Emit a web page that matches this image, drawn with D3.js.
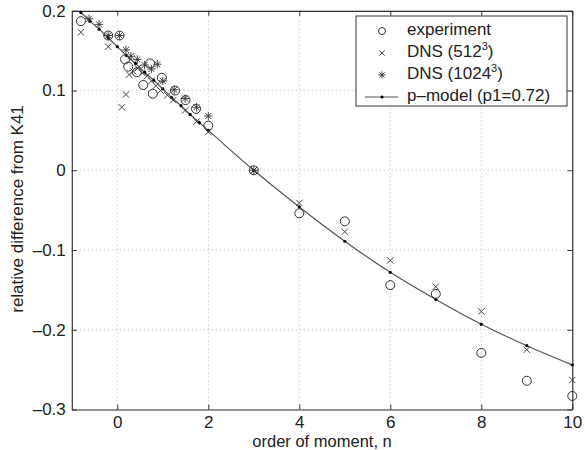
<!DOCTYPE html>
<html>
<head>
<meta charset="utf-8">
<script src="https://cdn.jsdelivr.net/npm/d3@7"></script>
<style>
  body { margin: 0; background: #fff; }
  text { font-family: "Liberation Sans", Arial, sans-serif; fill: #222; }
</style>
</head>
<body>
<script>
var width = 585;
var height = 450;

// p-model curve (p1 = 0.72)
var pmodelN = [-0.8, -0.6, -0.4, -0.2, 0, 0.2, 0.4, 0.6, 0.8, 1, 1.2, 1.4, 1.6, 1.8, 2, 3, 4, 5, 6, 7, 8, 9, 10];
var pmodelV = [0.198, 0.187, 0.177, 0.166, 0.155, 0.144, 0.134, 0.123, 0.113, 0.102, 0.091, 0.081, 0.070, 0.060, 0.050, 0, -0.046, -0.089, -0.128, -0.162, -0.193, -0.220, -0.244];

// experiment
var expN = [-0.8, -0.2, 0.05, 0.17, 0.24, 0.43, 0.57, 0.72, 0.78, 0.98, 1.27, 1.5, 1.73, 2, 3, 4, 5, 6, 7, 8, 9, 10];
var expV = [0.187, 0.169, 0.169, 0.139, 0.130, 0.123, 0.107, 0.134, 0.096, 0.116, 0.100, 0.088, 0.077, 0.056, 0, -0.054, -0.064, -0.144, -0.155, -0.229, -0.264, -0.283];

// DNS 512^3
var dns512N = [-0.8, -0.2, 0.1, 0.19, 0.26, 0.35, 0.45, 0.55, 0.65, 0.75, 0.85, 0.95, 1.1, 1.23, 1.49, 1.74, 2, 3, 4, 5, 6, 7, 8, 9, 10];
var dns512V = [0.173, 0.155, 0.079, 0.095, 0.120, 0.124, 0.128, 0.122, 0.118, 0.112, 0.106, 0.100, 0.094, 0.088, 0.075, 0.061, 0.048, 0, -0.041, -0.077, -0.113, -0.146, -0.177, -0.225, -0.263];

// DNS 1024^3
var dns1024N = [-0.62, -0.4, -0.2, 0.05, 0.19, 0.3, 0.44, 0.6, 0.75, 0.88, 1.0, 1.25, 1.49, 1.74, 2, 3];
var dns1024V = [0.190, 0.183, 0.169, 0.169, 0.151, 0.143, 0.139, 0.132, 0.127, 0.133, 0.112, 0.101, 0.090, 0.079, 0.068, 0];

var xTicks = [0, 2, 4, 6, 8, 10];
var yTicks = [-0.3, -0.2, -0.1, 0, 0.1, 0.2];

var legendLabels = ['experiment', 'DNS (512', 'DNS (1024', 'p\u2013model (p1=0.72)'];

var zip = function(a, b) { return a.map(function(d, i) { return [d, b[i]]; }); };

var svg = d3.select('body')
    .append('svg')
    .attr('width', width)
    .attr('height', height);

var x = d3.scaleLinear().domain([-1, 10]).range([71.8, 572.3]);
var y = d3.scaleLinear().domain([-0.3, 0.2]).range([409.5, 10.8]);

var fmt = function(d) {
    if (d === 0) return '0';
    return (d < 0 ? '\u2013' : '') + Math.abs(d).toFixed(1);
};

// grid
var grid = svg.append('g');
grid.selectAll('.gx').data(xTicks).enter().append('line')
    .attr('x1', d => x(d)).attr('x2', d => x(d))
    .attr('y1', y(-0.3)).attr('y2', y(0.2))
    .attr('stroke', '#aaa').attr('stroke-width', 0.8)
    .attr('stroke-dasharray', '1,3');
grid.selectAll('.gy').data(yTicks).enter().append('line')
    .attr('y1', d => y(d)).attr('y2', d => y(d))
    .attr('x1', x(-1)).attr('x2', x(10))
    .attr('stroke', '#aaa').attr('stroke-width', 0.8)
    .attr('stroke-dasharray', '1,3');

// axes, matlab style ticks inside
var axB = svg.append('g').attr('transform', 'translate(0,' + y(-0.3) + ')')
    .call(d3.axisBottom(x).tickValues(xTicks).tickSizeInner(-5).tickSizeOuter(0).tickPadding(6));
var axT = svg.append('g').attr('transform', 'translate(0,' + y(0.2) + ')')
    .call(d3.axisTop(x).tickValues(xTicks).tickSizeInner(-5).tickSizeOuter(0).tickFormat(''));
var axL = svg.append('g').attr('transform', 'translate(' + x(-1) + ',0)')
    .call(d3.axisLeft(y).tickValues(yTicks).tickSizeInner(-5).tickSizeOuter(0).tickPadding(6).tickFormat(fmt));
var axR = svg.append('g').attr('transform', 'translate(' + x(10) + ',0)')
    .call(d3.axisRight(y).tickValues(yTicks).tickSizeInner(-5).tickSizeOuter(0).tickFormat(''));

[axB, axT, axL, axR].forEach(function(a) {
    a.select('.domain').attr('stroke', '#333').attr('stroke-width', 1.2);
    a.selectAll('.tick line').attr('stroke', '#333');
    a.selectAll('text').attr('font-size', 17).attr('font-family', '"Liberation Sans", Arial, sans-serif').attr('fill', '#222');
});

// axis titles
svg.append('text')
    .attr('x', (x(-1) + x(10)) / 2)
    .attr('y', 447)
    .attr('text-anchor', 'middle')
    .attr('font-size', 16.5)
    .text('order of moment, n');

svg.append('text')
    .attr('transform', 'translate(23,' + 209 + ') rotate(-90)')
    .attr('text-anchor', 'middle')
    .attr('font-size', 17)
    .text('relative difference from K41');

// marker shapes
var markColor = '#333';
var crossPath = function(s) {
    return 'M' + (-s) + ',' + (-s) + 'L' + s + ',' + s + 'M' + (-s) + ',' + s + 'L' + s + ',' + (-s);
};
var starPath = function(s) {
    var d = s * 0.72;
    return 'M' + (-s) + ',0L' + s + ',0M0,' + (-s) + 'L0,' + s +
        'M' + (-d) + ',' + (-d) + 'L' + d + ',' + d + 'M' + (-d) + ',' + d + 'L' + d + ',' + (-d);
};

var marks = svg.append('g');

// p-model line with dots
var line = d3.line().x(d => x(d[0])).y(d => y(d[1])).curve(d3.curveMonotoneX);
marks.append('path')
    .datum(zip(pmodelN, pmodelV))
    .attr('d', line)
    .attr('fill', 'none')
    .attr('stroke', '#555')
    .attr('stroke-width', 1.2);
marks.selectAll('.pdot').data(zip(pmodelN, pmodelV)).enter().append('circle')
    .attr('cx', d => x(d[0])).attr('cy', d => y(d[1]))
    .attr('r', 1.6).attr('fill', '#000');

marks.selectAll('.exp').data(zip(expN, expV)).enter().append('circle')
    .attr('cx', d => x(d[0])).attr('cy', d => y(d[1]))
    .attr('r', 4.5).attr('fill', 'none')
    .attr('stroke', markColor).attr('stroke-width', 1);

marks.selectAll('.d512').data(zip(dns512N, dns512V)).enter().append('path')
    .attr('transform', d => 'translate(' + x(d[0]) + ',' + y(d[1]) + ')')
    .attr('d', crossPath(3.2))
    .attr('stroke', markColor).attr('stroke-width', 0.9);

marks.selectAll('.d1024').data(zip(dns1024N, dns1024V)).enter().append('path')
    .attr('transform', d => 'translate(' + x(d[0]) + ',' + y(d[1]) + ')')
    .attr('d', starPath(4.2))
    .attr('stroke', markColor).attr('stroke-width', 0.9);

// legend
var lg = svg.append('g');
lg.append('rect')
    .attr('x', 356).attr('y', 16)
    .attr('width', 211).attr('height', 90)
    .attr('fill', '#fff').attr('stroke', '#333').attr('stroke-width', 1);

var rowY = [31, 53, 75, 97];
lg.append('circle').attr('cx', 382).attr('cy', rowY[0]).attr('r', 3.5)
    .attr('fill', 'none').attr('stroke', markColor);
lg.append('path').attr('transform', 'translate(382,' + rowY[1] + ')')
    .attr('d', crossPath(2.6)).attr('stroke', markColor).attr('stroke-width', 0.9);
lg.append('path').attr('transform', 'translate(382,' + rowY[2] + ')')
    .attr('d', starPath(3.6)).attr('stroke', markColor).attr('stroke-width', 0.9);
lg.append('line').attr('x1', 365).attr('x2', 398)
    .attr('y1', rowY[3]).attr('y2', rowY[3])
    .attr('stroke', '#555').attr('stroke-width', 1.2);
lg.append('circle').attr('cx', 382).attr('cy', rowY[3]).attr('r', 1.6).attr('fill', '#000');

legendLabels.forEach(function(t, i) {
    var tx = lg.append('text')
        .attr('x', 407).attr('y', rowY[i] + 4)
        .attr('font-size', 17);
    if (i === 1 || i === 2) {
        tx.append('tspan').text(t);
        tx.append('tspan').attr('dy', -7).attr('font-size', 11).text('3');
        tx.append('tspan').attr('dy', 7).text(')');
    } else {
        tx.text(t);
    }
});
</script>
</body>
</html>
